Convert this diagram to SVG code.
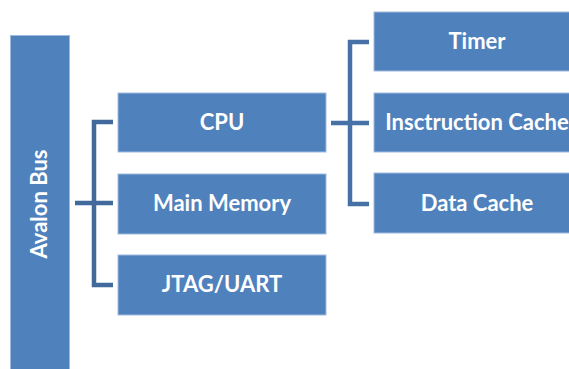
<svg xmlns="http://www.w3.org/2000/svg" width="569" height="369" viewBox="0 0 569 369">
<style>
.box{fill:#4F81BD;stroke:#9FBBDF;stroke-width:1}
.lbl{font-family:Lato,"Open Sans","Liberation Sans",sans-serif;font-weight:bold;font-size:22px;fill:#FFFFFF;text-anchor:middle}
.con{fill:none;stroke:#41699B;stroke-width:4.5;stroke-linejoin:miter}
</style>
<rect width="569" height="369" fill="#FFFFFF"/>
<g id="connectors">
<path class="con" d="M75,203 H113 M113,122 H94 V285 H113"/>
<path class="con" style="stroke:#4571A6" d="M331,123 H369 M369,42 H350 V204 H369"/>
</g>
<g id="avalon-bus">
<rect class="box" x="10.5" y="35.5" width="59" height="345"/>
<text class="lbl" transform="translate(47,204) rotate(-90)">Avalon Bus</text>
</g>
<g id="cpu">
<rect class="box" x="118" y="93" width="208" height="59"/>
<text class="lbl" x="222" y="129.5">CPU</text>
</g>
<g id="main-memory">
<rect class="box" x="118" y="174" width="208" height="60"/>
<text class="lbl" x="222" y="211">Main Memory</text>
</g>
<g id="jtag-uart">
<rect class="box" x="118" y="255" width="208" height="60"/>
<text class="lbl" x="222" y="292">JTAG/UART</text>
</g>
<g id="timer">
<rect class="box" x="374" y="12" width="208" height="59"/>
<text class="lbl" x="477" y="48.5">Timer</text>
</g>
<g id="instruction-cache">
<rect class="box" x="374" y="93" width="208" height="59"/>
<text class="lbl" x="477" y="129.5">Insctruction Cache</text>
</g>
<g id="data-cache">
<rect class="box" x="374" y="173" width="208" height="60"/>
<text class="lbl" x="477" y="210.5">Data Cache</text>
</g>
</svg>
